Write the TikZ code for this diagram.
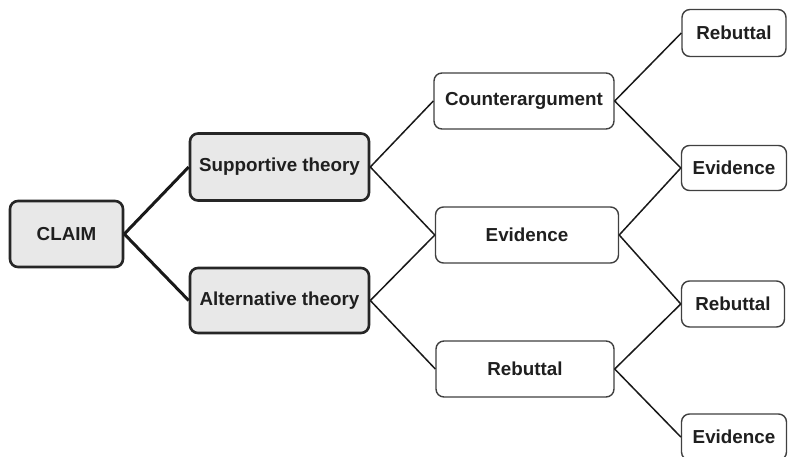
\documentclass[tikz,border=0pt]{standalone}
\usepackage{fontspec}
\setmainfont{Liberation Sans}
\begin{document}
\begin{tikzpicture}[x=1pt,y=-1pt,
  every node/.style={font=\fontsize{18.8}{22}\selectfont\bfseries, text=black!88},
  mainbox/.style={draw=black!85, line width=2.6pt, fill=black!9, rounded corners=8pt, inner sep=0pt},
  subbox/.style={draw=black!75, line width=1.4pt, fill=white, rounded corners=8pt, inner sep=0pt},
  heavylink/.style={draw=black!90, line width=3pt},
  link/.style={draw=black!90, line width=1.5pt}]
\useasboundingbox (0,0) rectangle (789,457);
\clip (0,0) rectangle (789,457);
\fill[white] (0,0) rectangle (789,457);
% first level
\node[mainbox, minimum width=113pt, minimum height=66pt] (claim) at (66.5,234) {CLAIM};
% second level
\node[mainbox, minimum width=179pt, minimum height=67pt] (supp) at (279.5,167) {Supportive theory};
\node[mainbox, minimum width=179pt, minimum height=65pt] (alt) at (279.5,300.5) {Alternative theory};
% third level
\node[subbox, minimum width=180pt, minimum height=56pt] (counter) at (524,101) {Counterargument};
\node[subbox, minimum width=183pt, minimum height=56pt] (evid) at (527,235) {Evidence};
\node[subbox, minimum width=178pt, minimum height=56pt] (rebut) at (525,369) {Rebuttal};
% fourth level
\node[subbox, minimum width=104pt, minimum height=47pt] (r1) at (734,33) {Rebuttal};
\node[subbox, minimum width=105pt, minimum height=45pt] (e1) at (734,168) {Evidence};
\node[subbox, minimum width=103pt, minimum height=46pt] (r2) at (733,304) {Rebuttal};
\node[subbox, minimum width=105pt, minimum height=46pt] (e2) at (734,437) {Evidence};
% connectors
\draw[heavylink] (claim.east) -- (supp.west);
\draw[heavylink] (claim.east) -- (alt.west);
\draw[link] (supp.east) -- (counter.west);
\draw[link] (supp.east) -- (evid.west);
\draw[link] (alt.east) -- (evid.west);
\draw[link] (alt.east) -- (rebut.west);
\draw[link] (counter.east) -- (r1.west);
\draw[link] (counter.east) -- (e1.west);
\draw[link] (evid.east) -- (e1.west);
\draw[link] (evid.east) -- (r2.west);
\draw[link] (rebut.east) -- (r2.west);
\draw[link] (rebut.east) -- (e2.west);
\end{tikzpicture}
\end{document}
